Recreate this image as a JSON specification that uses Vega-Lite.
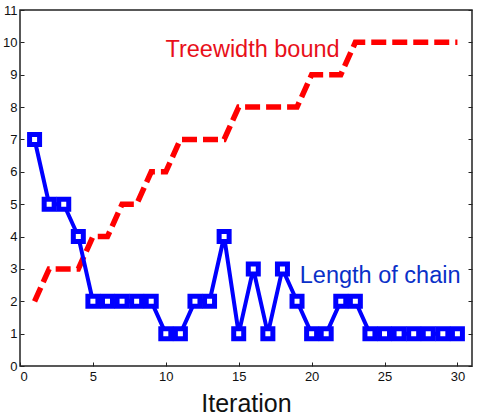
{
  "$schema": "https://vega.github.io/schema/vega-lite/v6.json",
  "width": 452,
  "height": 356,
  "autosize": {"type": "none"},
  "padding": {"left": 20, "top": 10, "right": 6, "bottom": 50},
  "background": "white",
  "config": {
    "view": {"stroke": "#222", "strokeWidth": 1.5},
    "font": "Liberation Sans",
    "axis": {"grid": false, "domain": false, "tickColor": "#222", "labelColor": "#111", "labelFont": "Liberation Sans", "labelFontSize": 13, "titleFont": "Liberation Sans", "titleFontWeight": "normal", "titleColor": "#111"}
  },
  "datasets": {
    "tw": [
      {"it": 1, "v": 2}, {"it": 2, "v": 3}, {"it": 3, "v": 3}, {"it": 4, "v": 3}, {"it": 5, "v": 4},
      {"it": 6, "v": 4}, {"it": 7, "v": 5}, {"it": 8, "v": 5}, {"it": 9, "v": 6}, {"it": 10, "v": 6},
      {"it": 11, "v": 7}, {"it": 12, "v": 7}, {"it": 13, "v": 7}, {"it": 14, "v": 7}, {"it": 15, "v": 8},
      {"it": 16, "v": 8}, {"it": 17, "v": 8}, {"it": 18, "v": 8}, {"it": 19, "v": 8}, {"it": 20, "v": 9},
      {"it": 21, "v": 9}, {"it": 22, "v": 9}, {"it": 23, "v": 10}, {"it": 24, "v": 10}, {"it": 25, "v": 10},
      {"it": 26, "v": 10}, {"it": 27, "v": 10}, {"it": 28, "v": 10}, {"it": 29, "v": 10}, {"it": 30, "v": 10}
    ],
    "chain": [
      {"it": 1, "v": 7}, {"it": 2, "v": 5}, {"it": 3, "v": 5}, {"it": 4, "v": 4}, {"it": 5, "v": 2},
      {"it": 6, "v": 2}, {"it": 7, "v": 2}, {"it": 8, "v": 2}, {"it": 9, "v": 2}, {"it": 10, "v": 1},
      {"it": 11, "v": 1}, {"it": 12, "v": 2}, {"it": 13, "v": 2}, {"it": 14, "v": 4}, {"it": 15, "v": 1},
      {"it": 16, "v": 3}, {"it": 17, "v": 1}, {"it": 18, "v": 3}, {"it": 19, "v": 2}, {"it": 20, "v": 1},
      {"it": 21, "v": 1}, {"it": 22, "v": 2}, {"it": 23, "v": 2}, {"it": 24, "v": 1}, {"it": 25, "v": 1},
      {"it": 26, "v": 1}, {"it": 27, "v": 1}, {"it": 28, "v": 1}, {"it": 29, "v": 1}, {"it": 30, "v": 1}
    ],
    "labels": [
      {"x": 15.95, "y": 9.75, "label": "Treewidth bound", "series": "tw"},
      {"x": 24.7, "y": 2.78, "label": "Length of chain", "series": "chain"}
    ]
  },
  "layer": [
    {
      "data": {"name": "tw"},
      "mark": {"type": "line", "color": "#ff0000", "strokeWidth": 5.5, "strokeDash": [15, 6], "strokeCap": "butt"},
      "encoding": {
        "x": {"field": "it", "type": "quantitative", "scale": {"domain": [0, 31], "nice": false}, "axis": {"values": [0, 5, 10, 15, 20, 25, 30], "tickSize": -4, "labelPadding": 8, "title": "Iteration", "titleFontSize": 25, "titlePadding": 8}},
        "y": {"field": "v", "type": "quantitative", "scale": {"domain": [0, 11], "nice": false}, "axis": {"orient": "left", "values": [0,1,2,3,4,5,6,7,8,9,10,11], "tickSize": -4, "labelPadding": 7, "title": null}}
      }
    },
    {
      "data": {"name": "chain"},
      "mark": {"type": "line", "color": "#0000ff", "strokeWidth": 4},
      "encoding": {
        "x": {"field": "it", "type": "quantitative"},
        "y": {"field": "v", "type": "quantitative", "axis": null}
      }
    },
    {
      "data": {"name": "chain"},
      "mark": {"type": "point", "shape": "square", "size": 100, "filled": false, "fill": "white", "fillOpacity": 1, "stroke": "#0000ff", "strokeWidth": 5, "opacity": 1},
      "encoding": {
        "x": {"field": "it", "type": "quantitative"},
        "y": {"field": "v", "type": "quantitative", "axis": {"orient": "right", "values": [0,1,2,3,4,5,6,7,8,9,10,11], "tickSize": -4, "labels": false, "title": null}}
      }
    },
    {
      "data": {"name": "labels"},
      "mark": {"type": "text", "fontSize": 23.5, "font": "Liberation Sans", "align": "center", "baseline": "middle"},
      "encoding": {
        "x": {"field": "x", "type": "quantitative"},
        "y": {"field": "y", "type": "quantitative", "axis": null},
        "text": {"field": "label"},
        "color": {"field": "series", "type": "nominal", "scale": {"domain": ["tw", "chain"], "range": ["#e8101a", "#0a30c8"]}, "legend": null}
      }
    }
  ],
  "resolve": {"axis": {"y": "independent"}}
}
